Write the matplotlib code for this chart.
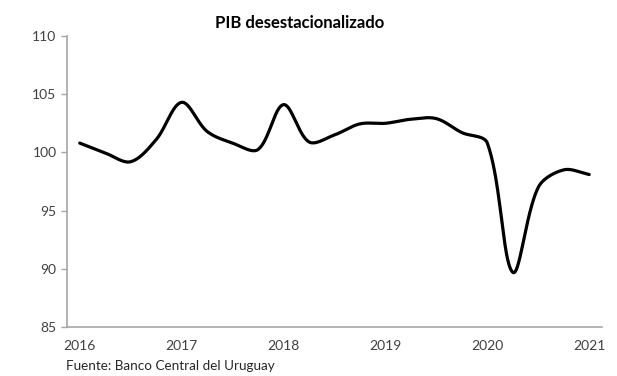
import matplotlib.pyplot as plt
import numpy as np

plt.rcParams["font.family"] = ["Lato", "DejaVu Sans"]

# PIB desestacionalizado, trimestral 2016 T1 - 2021 T1
valores = [100.8, 99.95, 99.2, 101.1, 104.3, 101.8, 100.8, 100.25, 104.1,
           100.9, 101.5, 102.45, 102.5, 102.85, 102.9, 101.7, 100.8, 89.7,
           97.0, 98.5, 98.1]
anios = ["2016", "2017", "2018", "2019", "2020", "2021"]
pos_anios = [0, 4, 8, 12, 16, 20]


def suavizar(y, esc_x=25.45, esc_y=11.68, n=40):
    # línea suavizada tipo Excel: Catmull-Rom con la tangente repartida
    # según la longitud (en píxeles) de los tramos vecinos
    P = np.column_stack([np.arange(len(y)) * esc_x, np.asarray(y, float) * esc_y])
    m = len(P)
    L = np.hypot(*(P[1:] - P[:-1]).T)
    c_out, c_in = np.zeros_like(P), np.zeros_like(P)
    for i in range(m):
        a = P[max(i - 1, 0)]
        b = P[min(i + 1, m - 1)]
        T = (b - a) / 2 if 0 < i < m - 1 else (b - a)
        li = L[i - 1] if i > 0 else L[i]
        lo = L[i] if i < m - 1 else L[i - 1]
        c_in[i] = P[i] - T * (2 * li / (li + lo)) / 3
        c_out[i] = P[i] + T * (2 * lo / (li + lo)) / 3
    xs, ys = [], []
    t = np.linspace(0, 1, n, endpoint=False)[:, None]
    for i in range(m - 1):
        p1, p2, c1, c2 = P[i], P[i + 1], c_out[i], c_in[i + 1]
        B = ((1 - t) ** 3) * p1 + 3 * ((1 - t) ** 2) * t * c1 \
            + 3 * (1 - t) * t ** 2 * c2 + t ** 3 * p2
        xs.append(B[:, 0])
        ys.append(B[:, 1])
    xs.append([P[-1, 0]])
    ys.append([P[-1, 1]])
    return np.concatenate(xs) / esc_x, np.concatenate(ys) / esc_y


fig = plt.figure(figsize=(6.17, 3.76), dpi=100)
ax = fig.add_axes([0.1086, 0.1303, 0.867, 0.774])

xs, ys = suavizar(valores)
ax.plot(xs, ys, color="black", linewidth=2.3, solid_capstyle="round")

ax.set_xlim(-0.5, len(valores) - 0.5)
ax.set_ylim(85, 110)
ax.set_yticks(np.arange(85, 111, 5))
ax.set_xticks(pos_anios)
ax.set_xticklabels(anios)

for s in ["top", "right"]:
    ax.spines[s].set_visible(False)
for s in ["left", "bottom"]:
    ax.spines[s].set_color("#a6a6a6")
    ax.spines[s].set_linewidth(1.2)

ax.tick_params(axis="y", colors="#a6a6a6", labelcolor="#404040", labelsize=10,
               length=4, width=1)
ax.tick_params(axis="x", length=0, labelcolor="#404040", labelsize=10, pad=9)

fig.text(0.4854, 0.94, "PIB desestacionalizado", ha="center", va="center",
         fontsize=12, fontweight="bold", color="black")
fig.text(0.107, 0.027, "Fuente: Banco Central del Uruguay", ha="left",
         va="center", fontsize=9.7, color="#262626")

fig.savefig("out.png", dpi=100)
